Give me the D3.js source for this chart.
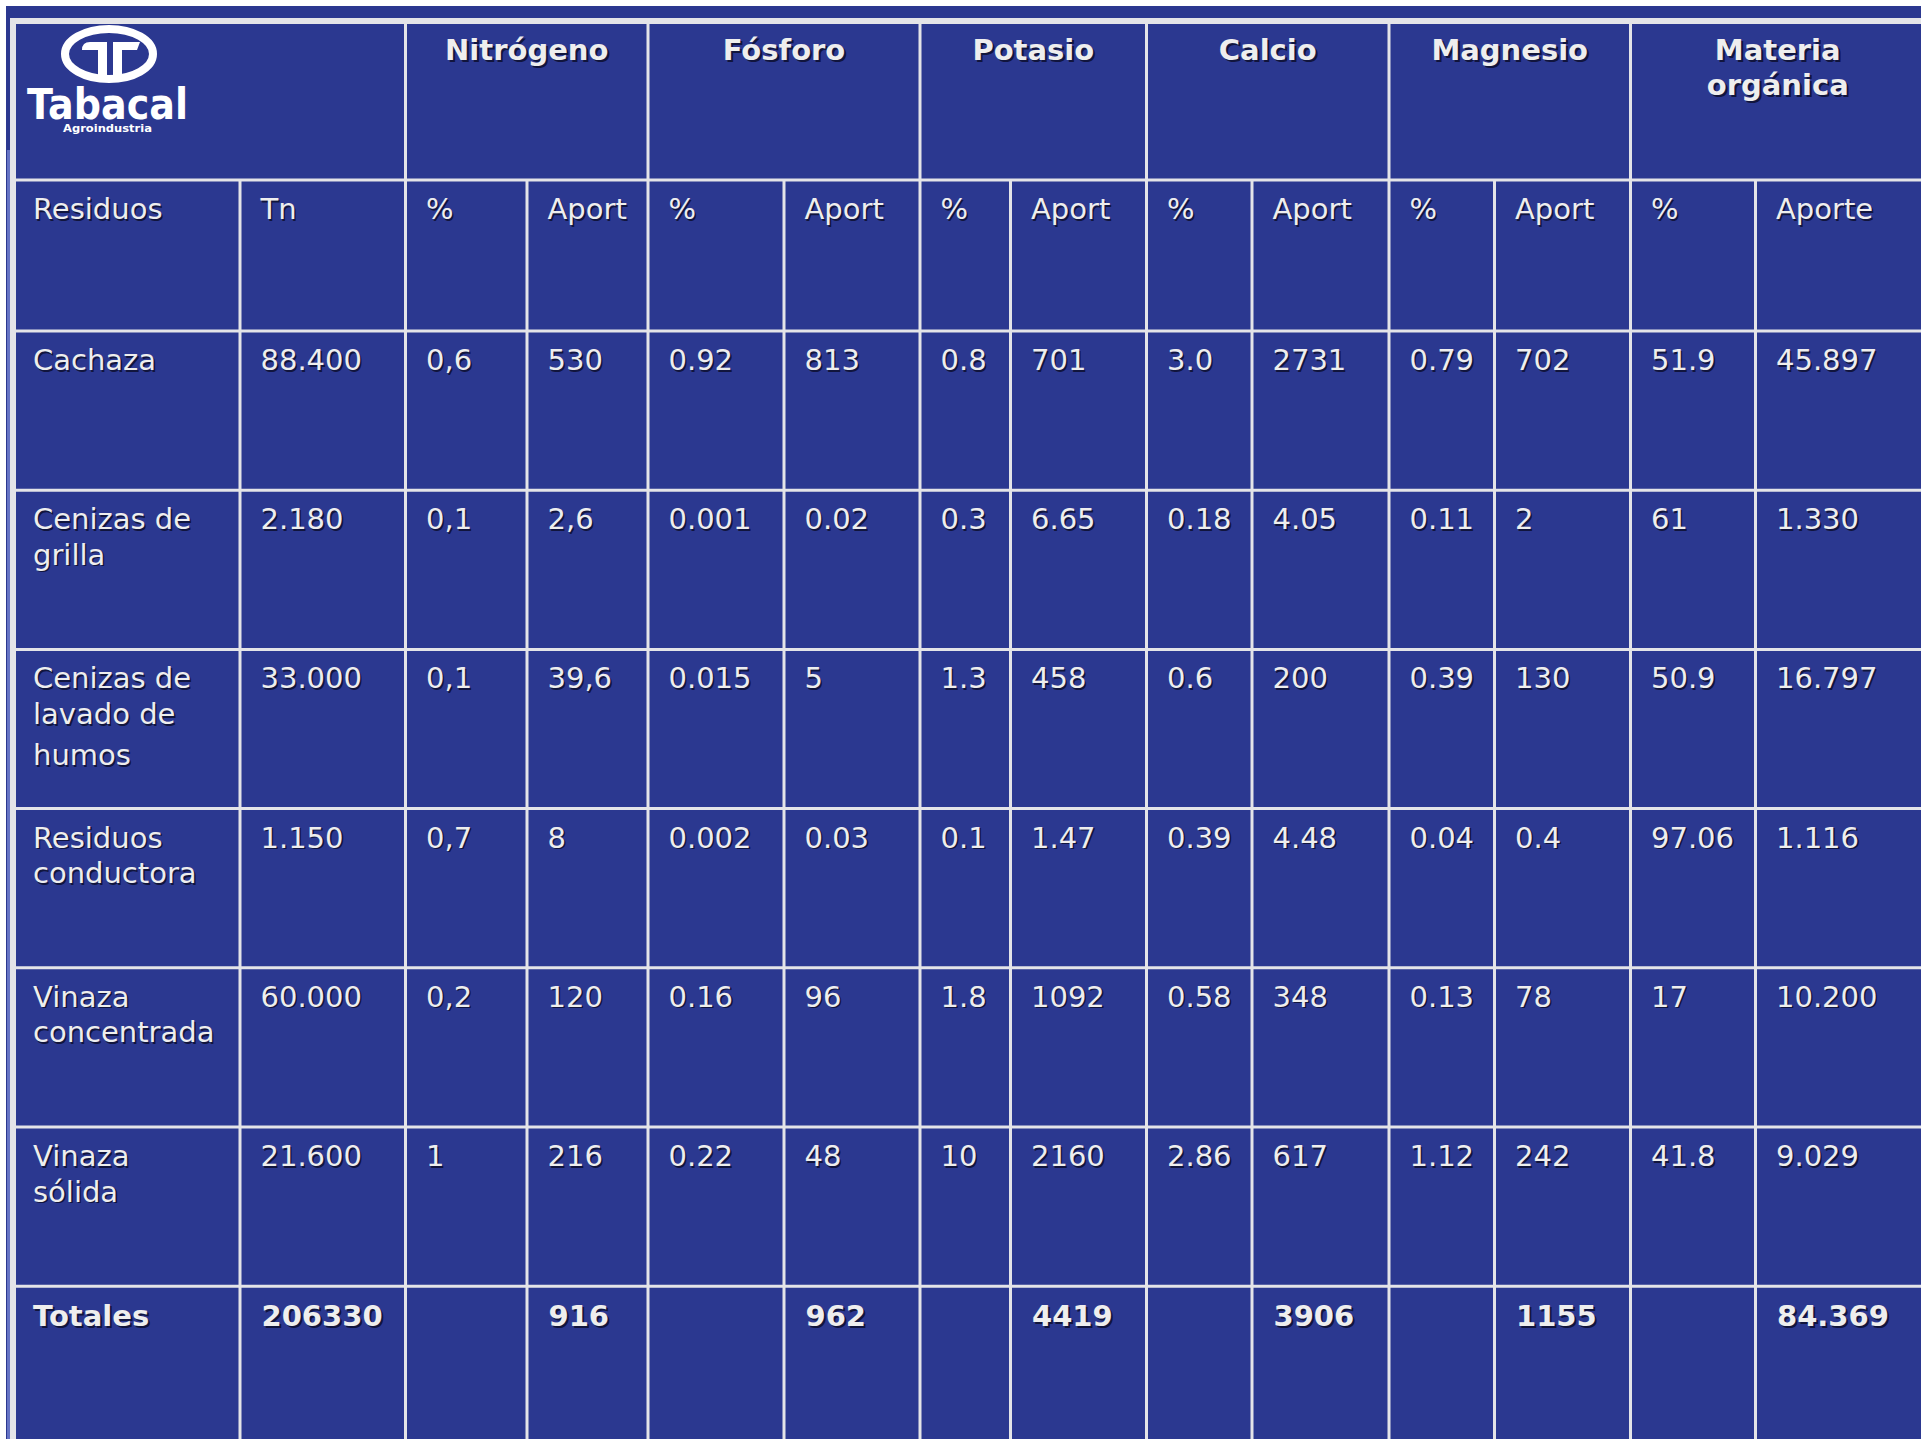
<!DOCTYPE html>
<html>
<head>
<meta charset="utf-8">
<script src="https://cdn.jsdelivr.net/npm/d3@7"></script>
<style>
  html, body { margin: 0; padding: 0; background: #ffffff; overflow: hidden; }
  svg { display: block; }
</style>
</head>
<body>
<svg id="chart" width="1921" height="1439"></svg>
<script>
// ---------------- DATA ----------------
const groupHeaders = ["Nitrógeno", "Fósforo", "Potasio", "Calcio", "Magnesio", "Materia orgánica"];
const subHeaders = ["Residuos", "Tn", "%", "Aport", "%", "Aport", "%", "Aport", "%", "Aport", "%", "Aport", "%", "Aporte"];
const residuos = ["Cachaza", "Cenizas de grilla", "Cenizas de lavado de humos", "Residuos conductora", "Vinaza concentrada", "Vinaza sólida"];
const tn = ["88.400", "2.180", "33.000", "1.150", "60.000", "21.600"];
const nitrogenoPct = ["0,6", "0,1", "0,1", "0,7", "0,2", "1"];
const nitrogenoAport = ["530", "2,6", "39,6", "8", "120", "216"];
const fosforoPct = ["0.92", "0.001", "0.015", "0.002", "0.16", "0.22"];
const fosforoAport = ["813", "0.02", "5", "0.03", "96", "48"];
const potasioPct = ["0.8", "0.3", "1.3", "0.1", "1.8", "10"];
const potasioAport = ["701", "6.65", "458", "1.47", "1092", "2160"];
const calcioPct = ["3.0", "0.18", "0.6", "0.39", "0.58", "2.86"];
const calcioAport = ["2731", "4.05", "200", "4.48", "348", "617"];
const magnesioPct = ["0.79", "0.11", "0.39", "0.04", "0.13", "1.12"];
const magnesioAport = ["702", "2", "130", "0.4", "78", "242"];
const moPct = ["51.9", "61", "50.9", "97.06", "17", "41.8"];
const moAport = ["45.897", "1.330", "16.797", "1.116", "10.200", "9.029"];
const totales = ["Totales", "206330", "", "916", "", "962", "", "4419", "", "3906", "", "1155", "", "84.369"];

// label line breaks as shown in the table
const residuosLines = {
  "Cachaza": ["Cachaza"],
  "Cenizas de grilla": ["Cenizas de", "grilla"],
  "Cenizas de lavado de humos": ["Cenizas de", "lavado de", "humos"],
  "Residuos conductora": ["Residuos", "conductora"],
  "Vinaza concentrada": ["Vinaza", "concentrada"],
  "Vinaza sólida": ["Vinaza", "sólida"]
};
const groupLines = {"Materia orgánica": ["Materia", "orgánica"]};

// ---------------- LAYOUT ----------------
const W = 1921, H = 1439;
const BLUE = "#2b3890";
const GRID = "#e4e4e8";
const TXT = "#eeeeee";
const FONT = "'DejaVu Sans', Verdana, sans-serif";

const colEdges = [13, 240, 405.5, 527, 648, 784, 920, 1010.5, 1146.5, 1252, 1389, 1494.5, 1630.5, 1755.5, 1925];
const x = d3.scaleOrdinal().domain(d3.range(colEdges.length)).range(colEdges);
const rowEdges = [21, 180, 331, 490.2, 649.4, 808.6, 967.8, 1127, 1286.2, 1445];
const y = d3.scaleOrdinal().domain(d3.range(rowEdges.length)).range(rowEdges);

const svg = d3.select("#chart");

// background
svg.append("rect").attr("x", 0).attr("y", 0).attr("width", W).attr("height", H).attr("fill", "#ffffff");
svg.append("rect").attr("x", 6).attr("y", 6).attr("width", W - 6).attr("height", H - 6).attr("fill", BLUE);
svg.append("rect").attr("x", 7).attr("y", 150).attr("width", 3).attr("height", H - 150).attr("fill", "#6573c4");

// table body rows data
const columns = [residuos, tn, nitrogenoPct, nitrogenoAport, fosforoPct, fosforoAport, potasioPct, potasioAport,
  calcioPct, calcioAport, magnesioPct, magnesioAport, moPct, moAport];
const rows = residuos.map((r, i) => columns.map(c => c[i]));

// ---- grid lines ----
const g = svg.append("g").attr("stroke", GRID).attr("stroke-width", 3).attr("fill", "none");
g.append("line").attr("x1", 10).attr("x2", W).attr("y1", y(0)).attr("y2", y(0)).attr("stroke-width", 6);
g.append("line").attr("x1", x(0)).attr("x2", x(0)).attr("y1", y(0) - 3).attr("y2", H).attr("stroke-width", 6);
d3.range(1, rowEdges.length - 1).forEach(r => {
  g.append("line").attr("x1", x(0)).attr("x2", W).attr("y1", y(r)).attr("y2", y(r));
});
d3.range(1, colEdges.length - 1).forEach(c => {
  const fullHeight = (c % 2 === 0); // group boundaries
  g.append("line").attr("x1", x(c)).attr("x2", x(c))
    .attr("y1", fullHeight ? y(0) : y(1)).attr("y2", H);
});

// ---- text helper with shadow ----
function label(parent, tx, ty, text, opts) {
  const o = Object.assign({size: 29, weight: "normal", anchor: "start", shadow: 1.6}, opts || {});
  parent.append("text").attr("x", tx + o.shadow).attr("y", ty + o.shadow)
    .attr("font-family", FONT).attr("font-size", o.size).attr("font-weight", o.weight)
    .attr("text-anchor", o.anchor).attr("fill", "#0d0f2e").attr("fill-opacity", 0.85).text(text);
  parent.append("text").attr("x", tx).attr("y", ty)
    .attr("font-family", FONT).attr("font-size", o.size).attr("font-weight", o.weight)
    .attr("text-anchor", o.anchor).attr("fill", TXT).text(text);
}

const PAD = 20.5, BASE = 39;
const lineOffsets = [0, 35.5, 77];

// group headers
const gh = svg.append("g");
groupHeaders.forEach((name, i) => {
  const c0 = 2 + i * 2, c1 = c0 + 2;
  const cx = (x(c0) + x(c1)) / 2;
  const lines = groupLines[name] || [name];
  lines.forEach((ln, k) => label(gh, cx, 60 + k * 35, ln, {size: 29, weight: "bold", anchor: "middle", shadow: 2.2}));
});

// sub headers
const sh = svg.append("g");
subHeaders.forEach((s, c) => label(sh, x(c) + (c === 0 ? 20 : PAD), y(1) + BASE, s));

// body rows
const body = svg.append("g");
rows.forEach((row, r) => {
  row.forEach((val, c) => {
    if (c === 0) {
      residuosLines[val].forEach((ln, k) => label(body, x(0) + 20, y(r + 2) + BASE + lineOffsets[k], ln));
    } else {
      label(body, x(c) + PAD, y(r + 2) + BASE, val);
    }
  });
});

// totals
const tot = svg.append("g");
totales.forEach((val, c) => {
  if (val) label(tot, x(c) + (c === 0 ? 20 : 21.5), y(8) + BASE + 0.5, val, {weight: "bold", shadow: 2});
});

// ---- logo ----
const logo = svg.append("g");
logo.append("ellipse").attr("cx", 109).attr("cy", 54).attr("rx", 44).attr("ry", 25)
  .attr("fill", "none").attr("stroke", "#ffffff").attr("stroke-width", 8);
logo.append("path").attr("d", "M82,50 Q82,42 90,42 L107,42 L107,80 L98,80 L98,50 Z").attr("fill", "#ffffff");
logo.append("path").attr("d", "M113,42 L140,42 L137,50 L122,50 L122,80 L113,80 Z").attr("fill", "#ffffff");
logo.append("text").attr("x", 27).attr("y", 119).attr("font-family", FONT).attr("font-weight", "bold")
  .attr("font-size", 42).attr("textLength", 161).attr("lengthAdjust", "spacingAndGlyphs")
  .attr("fill", "#ffffff").text("Tabacal");
logo.append("text").attr("x", 63).attr("y", 132).attr("font-family", FONT).attr("font-weight", "bold")
  .attr("font-size", 11).attr("textLength", 89).attr("lengthAdjust", "spacingAndGlyphs")
  .attr("fill", "#ffffff").text("Agroindustria");
</script>
</body>
</html>
